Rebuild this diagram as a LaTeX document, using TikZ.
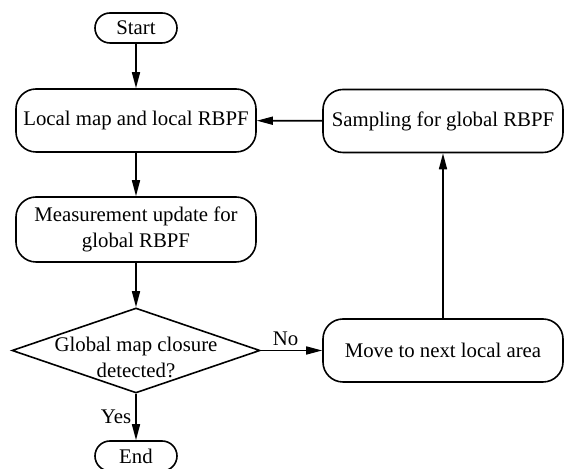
\documentclass[tikz,border=0pt]{standalone}
\usepackage{fontspec}
\setmainfont{Liberation Serif}
\usetikzlibrary{shapes.geometric,arrows.meta}

\tikzset{
  box/.style={draw, rounded corners=10pt, minimum width=120pt, minimum height=31.5pt, align=center, inner sep=2pt},
  term/.style={draw, rounded corners=7.5pt, minimum width=41pt, minimum height=15pt, inner sep=0pt},
  decision/.style={draw, diamond, minimum width=124pt, minimum height=42.5pt, inner sep=0pt},
  flow/.style={-{Triangle[length=8pt,width=4pt]}}
}

\begin{document}
\begin{tikzpicture}[x=0.5pt,y=-0.5pt,line width=0.8pt,font=\fontsize{10.4}{13}\selectfont]
  \useasboundingbox (0,0) rectangle (564,469);

  % left column
  \node[term] (start) at (136,28) {Start};
  \node[box] (local) at (136,120.5) {Local map and local RBPF};
  \node[box, minimum height=32.5pt] (meas) at (136,229.5) {Measurement update for\\global RBPF};
  \node[decision] (check) at (136,350.5) {};
  \node[align=center, inner sep=0pt] (checktext) at (136,357) {Global map closure\\detected?};
  \node[term] (stop) at (136,456) {End};

  % right column
  \node[box] (sample) at (443,121) {Sampling for global RBPF};
  \node[box] (move) at (443,350.5) {Move to next local area};

  % connectors
  \draw[flow] (start) -- (local);
  \draw[flow] (local) -- (meas);
  \draw[flow] (meas) -- (check);
  \draw[flow] (check) -- node[left, inner sep=2pt] (yes) {Yes} (stop);
  \draw[flow] (check) -- node[above, inner sep=2pt, xshift=-3pt] (no) {No} (move);
  \draw[flow] (move) -- (sample);
  \draw[flow] (sample) -- (local);

\end{tikzpicture}
\end{document}
